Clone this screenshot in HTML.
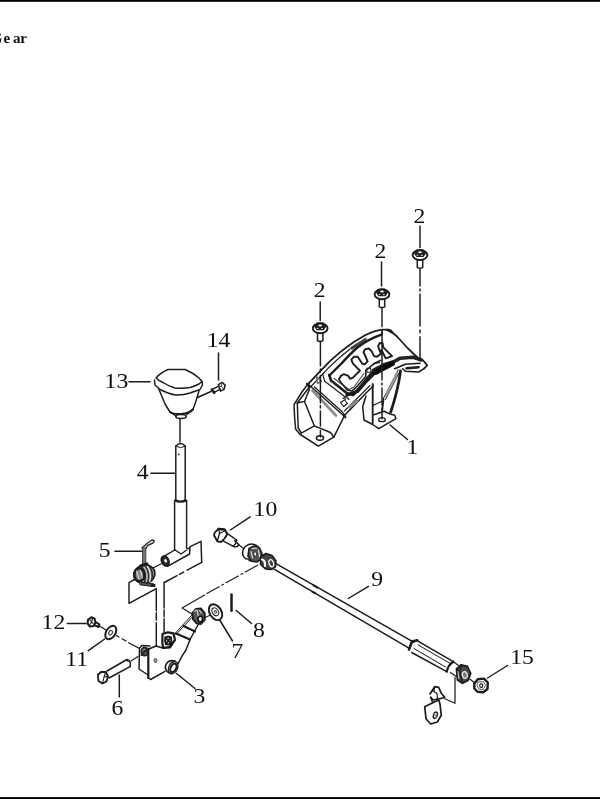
<!DOCTYPE html>
<html><head><meta charset="utf-8">
<style>
html,body{margin:0;padding:0;background:#fff;}
body{width:600px;height:799px;overflow:hidden;position:relative;font-family:"Liberation Serif",serif;}
svg{position:absolute;left:0;top:0;}
.hd{position:absolute;left:0;top:0;}
</style></head>
<body>

<svg width="600" height="799" viewBox="0 0 600 799">
<defs>
<filter id="bl" x="-5%" y="-5%" width="110%" height="110%"><feGaussianBlur stdDeviation="0.45"/></filter>
<g id="fb" fill="#fff" stroke="#1a1a1a" stroke-width="1.1">
  <path d="M-2.7,4.5 L-2.7,12.6 Q0,13.8 2.7,12.6 L2.7,4.5 Z" stroke-width="1.5"/>
  <ellipse cx="0" cy="0" rx="7.4" ry="5" stroke-width="1.9"/>
  <path d="M-5.4,-1.8 L-3,-5 L3,-5 L5.4,-1.8 L3.2,1.4 L-3.2,1.4 Z" fill="#222" stroke-width="1.2"/>
  <ellipse cx="0" cy="-2.8" rx="1.8" ry="1" fill="#fff" stroke="none"/>
  <ellipse cx="-2.6" cy="0.2" rx="0.9" ry="0.6" fill="#ddd" stroke="none"/>
  <ellipse cx="1.8" cy="0.3" rx="1.1" ry="0.6" fill="#ddd" stroke="none"/>
</g>
</defs>
<rect x="0" y="0" width="600" height="1.8" fill="#000"/>
<rect x="0" y="797.1" width="600" height="1.9" fill="#000"/>
<g filter="url(#bl)" fill="none" stroke="#1a1a1a" stroke-width="1.45" stroke-linecap="round" stroke-linejoin="round">

<g font-family="Liberation Serif, serif" font-size="15" font-weight="bold" fill="#111" stroke="none">
<text x="-9.3" y="43">G</text><text x="3.6" y="43">e</text><text x="13" y="43">a</text><text x="20.3" y="43">r</text>
</g>
<!-- ===== labels ===== -->
<g font-family="Liberation Serif, serif" font-size="21.5" fill="#111" stroke="none">
<text transform="translate(413.6,222.6) scale(1.1,1)">2</text>
<text transform="translate(374.4,257.6) scale(1.1,1)">2</text>
<text transform="translate(313.8,297.3) scale(1.1,1)">2</text>
<text transform="translate(406.5,454.2) scale(1.1,1)">1</text>
<text transform="translate(206.8,347.2) scale(1.1,1)">14</text>
<text transform="translate(104.6,388) scale(1.1,1)">13</text>
<text transform="translate(136.8,479) scale(1.1,1)">4</text>
<text transform="translate(98.7,557.2) scale(1.1,1)">5</text>
<text transform="translate(253.6,515.7) scale(1.1,1)">10</text>
<text transform="translate(371.3,586.2) scale(1.1,1)">9</text>
<text transform="translate(510.3,664) scale(1.1,1)">15</text>
<text transform="translate(253,636.7) scale(1.1,1)">8</text>
<text transform="translate(231.6,658.3) scale(1.1,1)">7</text>
<text transform="translate(193.5,702.7) scale(1.1,1)">3</text>
<text transform="translate(111.5,714.5) scale(1.1,1)">6</text>
<text transform="translate(65.2,666) scale(1.1,1)">11</text>
<text transform="translate(41.6,629) scale(1.1,1)">12</text>
</g>

<!-- ===== leaders ===== -->
<g id="leaders">
<path d="M420,226 V247.5"/>
<path d="M381.5,262 V286"/>
<path d="M320.2,302 V320.5"/>
<path d="M390,425 L407.5,439.5"/>
<path d="M218.5,353 V380"/>
<path d="M129,381.7 H150"/>
<path d="M151,473.2 H174.5"/>
<path d="M115,551.3 H142"/>
<path d="M250.2,516.8 L230.3,530"/>
<path d="M368.5,586.4 L348.3,598.5"/>
<path d="M507.5,665.5 L487.5,678"/>
<path d="M236.2,610.5 L251.5,623.5"/>
<path d="M219.7,620 L232.5,641"/>
<path d="M176.5,673.5 L195,688.5"/>
<path d="M119.3,675 V697"/>
<path d="M88.3,650.7 L104.7,639"/>
<path d="M67.3,623.4 H86"/>
</g>


<!-- ===== part 1 cover ===== -->
<g id="cover">
<!-- outer arc + right side + tab -->
<path d="M307.8,384.3 L320,371.3 C333,357 350,343.5 365,335.2 C372,331.8 378,329.7 383,329.6 L389,329.6 L397,336.5 L408,348.5 L418.7,358.7 L422.7,360 L427.3,365.3 L424,368.7" stroke-width="1.8"/>
<!-- inner rim line -->
<path d="M310.5,387 L322.7,374 C331,365 341,356 351,348.3" stroke-width="1.1"/>
<path d="M351.5,348.3 L366,339" stroke="#8f8f8f" stroke-width="2.8"/>
<path d="M352,348 L365.5,339.4" stroke="#444" stroke-width="2.8" stroke-dasharray="0.8 1.6"/>
<path d="M382,331 V334.8" stroke-width="1.8"/>
<path d="M386.5,330 L391.5,330 L393,333.5 Z" fill="#222" stroke-width="1"/>
<!-- gate panel outer -->
<path d="M329.3,375.5 L341,364 C346,358.5 352,352 358,347 C365,341.8 373,337.5 381.5,334.6" stroke-width="2.4"/>
<path d="M329.3,375 L331,380.5 L347,393.3 L353.3,395 L361.3,385.3 L372,372.5" stroke-width="2.6"/>
<path d="M334,378.5 L349,389.5 L354,387 L364,373.5" stroke-width="1.1" stroke="#444"/>
<!-- gate slot upper contour -->
<path d="M339,379.4 L340.8,375.9 L343.7,374.2 L348.3,375.9 L350.1,378.8 L353,377.7 L360,370.7 L357.1,367.8 L353,363.7 L351.3,359.6 L354.2,356.7 L357.7,356.7 L360,360.2 L362.3,363.7 L364.7,364.3 L367.6,361.3 L365.3,356.1 L363.5,352 L365.3,349.1 L368.8,348.5 L371.7,351.4 L374,356.1 L376.9,356.7 L381,353.8 L379.3,349.7 L378.1,346.2 L379.5,343.3 L382.5,342.8 L383.3,347.3 L392.1,356.1 L385.7,358.4 L381.5,350" stroke-width="1.9"/>
<!-- gate slot lower contour -->
<path d="M339,379.4 L340.8,382.3 L347.2,389.9 L351.8,391.1 L355.9,387.6 L365.8,376.5 L365.8,370.1 L368.8,368.3 L371.7,365.4 L376.3,362.5 L381,360.2" stroke-width="1.5"/>
<path d="M367,368.2 L370.5,367.8 L371,372 L367.5,372.4 Z" stroke-width="1"/>
<path d="M373.5,363.3 L379.5,362.6" stroke-width="1.2"/>
<!-- dark lower rim band of arc, to the tab -->
<path d="M347,395 L357.5,391.3 L366,381.5 L375,372.5" stroke-width="3.4"/>
<path d="M373.3,370.3 L384,364.8 L393.3,362 L400,358.2 L413.3,357.2 L421.3,360" stroke-width="3.6" stroke="#222"/>
<path d="M376,372 L393,363" stroke-width="5.5" stroke-dasharray="1.5 1.3" stroke="#111"/>
<path d="M394.7,368.7 L405.3,364.2 L420,363.3" stroke-width="1.6"/>
<path d="M402.7,368.7 L405.3,371.3 L418.7,372 L424,368.7" stroke-width="1.5"/>
<path d="M406.5,368.3 L418.5,367.2" stroke-width="2.6"/>
<path d="M403,361 L409,360.3 M412,360.5 L418,361.5" stroke="#fff" stroke-width="1.1"/>
<!-- left top face / foot separation band -->
<path d="M322.7,374 L324.7,381.3 L344,396 L345.3,399.5" stroke-width="1.1"/>
<path d="M308,384 L344,416" stroke-width="1.4"/>
<path d="M307,383.8 L309.5,387" stroke-width="2.2"/>
<path d="M312.5,390.5 L336,415.5" stroke="#8a8a8a" stroke-width="2.6"/>
<path d="M314.5,387 L343,412.5" stroke-width="1.2"/>
<path d="M316.5,376.5 L321.5,381 L317.5,383.5 Z" stroke="#777" stroke-width="1.5"/>
<path d="M340.5,402.5 L344.5,400 L347.5,403.5 L343.5,406.5 Z M343,398.5 L346,396.5 L349,399.5" stroke-width="1.1"/>
<!-- left foot outline -->
<path d="M307.8,384.3 L302,392 L294,404.7 L294.6,417 L295.6,429 L299.6,434 L318.3,446.1 L333.8,437.2 L344.3,416" stroke-width="1.5"/>
<path d="M309,387.5 L297.3,403 L298.2,428 L301.3,433"/>
<path d="M297.3,403 L304.5,401.4 L314.3,425.8 L301.3,433.1 M314.3,425.8 L330.5,432.5 L333.8,437.2 M304.5,401.4 L309.5,389"/>
<ellipse cx="320" cy="438" rx="3.6" ry="2.3"/>
<!-- arc underside to right foot -->
<path d="M344,416 L350,409.6 L358,401.5 L366,393 L373.3,386" stroke-width="1.5"/>
<path d="M344.5,411 L352,403.5 L362,393.5 L370,385.5" stroke-width="1.1"/>
<path d="M349.5,407 L357,401" stroke="#8a8a8a" stroke-width="3"/>
<path d="M343.5,414 L345.5,417.5" stroke-width="2"/>
<!-- right foot -->
<path d="M366,396 L362.7,406.7 L364,420 L372.7,424.5 L378.7,428.7 L396,418.7 L394.7,415.3 L390,414 L384,411.3 L374,414.7" stroke-width="1.5"/>
<path d="M372.7,384 V423" stroke-width="1.8"/>
<path d="M373.3,405.3 L382,401.3" stroke-width="1.2"/>
<ellipse cx="382" cy="419.7" rx="3.3" ry="2" stroke-width="1.3"/>
<path d="M398.2,369.8 L383.3,398.7 M400,371 L385.5,399.5" stroke-width="1"/>
<path d="M397,373 L386,396" stroke-width="2.6" stroke="#999" stroke-dasharray="1.2 1.6"/>
<path d="M400.5,371 Q398,390 390.7,412" stroke-width="2.8" stroke-dasharray="2.2 0.9"/>
<path d="M383.5,399 L382.3,410" stroke-width="1.8" stroke-dasharray="2 1"/>
</g>


<!-- ===== knob 13 + screw 14 ===== -->
<g id="knob">
<path d="M159,389.5 L165,404 L170,412 L176,416 M199,391 L195,404 L193,409 L187,414.5"/>
<path d="M154.5,380 L155,385 L160,389.5 C166,392.5 171,394.5 176,395 C181,395.3 186,394.3 190,393 L200,389.5 L202.5,385 L202,381.5"/>
<path d="M156,378 C159,374.5 163,371.5 168,369.5 L185,369.5 C190,371.5 195,374.5 199,378 L202,381.5 L199,384 C196,385.5 193,386.8 190,387.5 C185,388.3 180,388.3 175,388 C170,386.5 166,384.5 163,382.5 C160,381 157.5,379.5 156,378 Z"/>
<path d="M170,412 C174,415 188,415 193,409.5" stroke-width="1.9"/>
<ellipse cx="181" cy="416.5" rx="5.2" ry="2" stroke-width="1.6"/>
<path d="M180,419 V442"/>
<path d="M197.5,397.5 L211,391.5"/>
<path d="M212.3,389.4 L218.6,386.2 M213.8,392.4 L220.3,389.3" stroke-width="1.3"/>
<path d="M211.8,389.6 L214.2,392.8" stroke-width="2.6"/>
<path d="M218.3,384.6 L222.3,382.4 L225.2,385.2 L224,389.3 L220.6,391.2 Z" stroke-width="1.5"/>
<path d="M222.3,382.4 L221.3,386.5 L224,389.3 M221.3,386.5 L218.6,386.2" stroke-width="1" stroke="#444"/>
</g>

<!-- ===== shaft 4 ===== -->
<g id="shaft">
<path d="M175.8,446 V500 M185.2,446 V500"/>
<path d="M175.8,446 Q180.5,441 185.2,446"/>
<path d="M176.5,446.5 Q180.5,449 184.6,446.5" stroke-width="1"/>
<circle cx="178.8" cy="454.3" r="0.9" fill="#222" stroke="none"/>
<path d="M175.8,500 Q180.5,502.6 185.2,500"/>
<path d="M174.6,500.5 V550.2 M186.6,500.5 V548 Q187,549.4 189.8,548"/>
<path d="M174.6,500.5 Q180.5,503.5 186.6,500.5"/>
<!-- tube -->
<ellipse cx="165.2" cy="561" rx="3.6" ry="5.3" transform="rotate(-25 165.2 561)" stroke-width="1.6" fill="#2a2a2a"/><ellipse cx="165.6" cy="560.8" rx="1.3" ry="1.8" transform="rotate(-25 165.6 560.8)" fill="#fff" stroke="none"/>

<path d="M164.3,556.2 L174.8,550 M167.5,566.3 L189.6,554 L189.9,548"/>
<path d="M174.8,549.8 L181,554 L186.4,550.3" stroke-width="1.3"/>
<!-- plane (right) -->
<path d="M189.8,546.8 L201,541.3 L201.7,562.3"/>
<path d="M201.7,562.3 L164.3,582.5" stroke-dasharray="16.5 4 5 2.5 20 1"/>
<path d="M164.1,582.5 V608 M164.1,610 V616.7 M164.1,618.7 V632.7"/>
<!-- plane (left) -->
<path d="M135.8,578.8 L129,582.7 L129,603.3 L156.3,588.7 V610.7 M156.3,612.7 V620 M156.3,622.7 V646"/>
<!-- axis lines -->


</g>

<!-- ===== pin 5 + spring ===== -->
<g id="spring">
<path d="M144.1,548 V564.5" stroke="#777" stroke-width="3.3"/>
<path d="M142.6,548 V564.5 M145.8,548.5 V564" stroke-width="0.9" stroke="#333"/>
<path d="M142,548 L147.5,543 L152,540 L154.2,540.8 L153,543 L147.5,545.5 L145.8,548.6" stroke-width="1.5" stroke="#333"/>
<path d="M153,568 L161.3,563.8" stroke-width="1.1"/>
<ellipse cx="144.6" cy="574.2" rx="10.4" ry="9.2" stroke-width="1.8" fill="#b5b5b5" transform="rotate(-15 144.6 574.2)"/>
<path d="M140.8,565.8 L147,564" stroke-width="3"/>
<path d="M145.5,566 Q150.5,573 148,582.5 M149.5,566.5 Q154,573 151.5,581 M141.5,566.5 Q147,573 144.5,583" stroke-width="1.8" stroke="#333"/>
<path d="M147.3,566.5 Q152,573 149.7,581.5" stroke-width="1.2" stroke="#eee"/>
<ellipse cx="139.3" cy="574.8" rx="5" ry="6.6" stroke-width="2.6" fill="#888"/>
<path d="M136.5,571 L139,579 M140.5,570.5 L142.5,578" stroke="#ddd" stroke-width="1"/>
<path d="M140.4,583.5 L153,585.2" stroke="#555" stroke-width="2.8"/>
<path d="M141,582.3 L153.3,583.8 M140,584.8 L152,586.5" stroke-width="0.9"/>
<path d="M152.3,585 L154,585.4" stroke-width="3.2"/>
<path d="M135.8,578.3 L132,580.8" stroke-width="1"/>
</g>


<!-- ===== bracket 3 ===== -->
<g id="bracket">
<!-- left flap -->
<path d="M139.5,648 L139,669 L148,675 M139.5,648 L142,645.5 L150,646"/>
<!-- main plate -->
<path d="M148.3,649.2 L148.3,678" stroke-width="2.2"/><path d="M148.3,678 L150.5,679.5 L165,671.3" stroke-width="1.5"/>
<path d="M148.3,649.2 L156,646 L162,647.8 L169,647.2 L175,640" stroke-width="1.7"/>
<ellipse cx="155.5" cy="660.5" rx="1.4" ry="1.9" stroke-width="1.2" stroke="#555" fill="#bbb"/>
<!-- left boss -->
<ellipse cx="144.6" cy="651.6" rx="3.3" ry="4" stroke-width="1.8" fill="#999"/>
<ellipse cx="144.8" cy="652.3" rx="1.6" ry="2" stroke-width="1.3" stroke="#444"/>
<path d="M141.5,655 L148,648.5" stroke-width="2" stroke="#222"/>
<!-- middle boss -->
<path d="M162.5,634 L168,632.3 L173.5,633.3 L175,640 L170,647.3 L163.3,648 L162.3,643.3 Z" stroke-width="2.2"/>
<ellipse cx="168.2" cy="640.5" rx="3.2" ry="3.9" stroke-width="2" fill="#ccc"/>
<path d="M165,637 L171.5,644 M165.5,644.5 L171,637" stroke-width="1.6"/>
<!-- bushing -->
<path d="M171.5,673.8 C166,672.5 164,668 166,664.5 C167.5,661.5 171,660 175,661" stroke-width="1.6"/>
<ellipse cx="173.2" cy="667.6" rx="4.4" ry="6.4" transform="rotate(25 173.2 667.6)" stroke-width="1.3"/><ellipse cx="173.4" cy="667.8" rx="2.7" ry="4.5" transform="rotate(25 173.4 667.8)" stroke-width="2"/>
<!-- arm -->
<path d="M178.3,663.3 L181.7,656.7 L186,650 L190,639.5 L198.5,624"/>
<path d="M175,633.5 L192,615 M176,634.5 L193,616.3" stroke-width="1"/>
<path d="M176,633.5 L190,639.5 M183.5,626 L195,631.5" stroke-width="2.1"/>

<!-- arm top boss -->
<path d="M192.3,613 L196,608.8 L201,608.5 L204.8,613 L204.8,620 L201,624 L196.5,623.3 L193,619.5 Z" stroke-width="1.8" fill="#555"/>
<path d="M194,611.5 L197,609.8 L198.5,617 M199.3,610 L201.3,613" stroke="#eee" stroke-width="1"/>
<ellipse cx="200.3" cy="619" rx="2.2" ry="2.7" fill="#fff" stroke="#111" stroke-width="1.6"/>
<!-- Z axis line -->
<path d="M204.2,595.3 L182,608 L192.5,614.3" stroke-width="1.2"/>
<path d="M205,617.5 L209.5,615.5" stroke-width="1.1"/>
</g>

<!-- ===== washer 7 + pin 8 ===== -->
<ellipse cx="215.5" cy="612.2" rx="5.8" ry="8.6" transform="rotate(-32 215.5 612.2)" stroke-width="1.9"/><ellipse cx="215.3" cy="611.8" rx="3" ry="4.2" transform="rotate(-32 215.3 611.8)" stroke-width="1"/>
<ellipse cx="215.4" cy="611.8" rx="1" ry="1.4" transform="rotate(-32 215.4 611.8)" stroke-width="1" stroke="#444"/>
<path d="M231.5,594.5 V610.8" stroke-width="2.5"/>

<!-- ===== 11, 12, 6 ===== -->
<g id="left-hw">
<path d="M99.5,626 L106,630" stroke-width="1.2"/>
<path d="M116.5,635.5 L119,637 M122,638.8 L126,641 M128.7,642.7 L139,648.3" stroke-width="1.3"/>
<ellipse cx="110.8" cy="632.5" rx="4.6" ry="7.4" transform="rotate(32 110.8 632.5)" stroke-width="2"/>
<ellipse cx="110.6" cy="632.8" rx="1.7" ry="2.4" transform="rotate(32 110.6 632.8)" stroke-width="1.2" stroke="#444"/>
<!-- screw 12 -->
<path d="M88,619.8 L91.3,617.3 L94.5,618.5 L95.5,622.5 L93.5,626 L90,626.5 L87.6,623.5 Z" stroke-width="2.1"/>
<path d="M90,620 L93,623.5 M92.5,619.5 L90.5,624" stroke-width="1.1"/>
<path d="M95.5,622 L99.3,624.3 L98.6,627 L94.8,625.3" stroke-width="2"/>
<!-- bolt 6 -->
<path d="M107,671 L127,659.5 M109,678 L130,666.7" />
<path d="M127,659.5 Q131.6,660.6 130,666.7"/>
<ellipse cx="127.8" cy="660.8" rx="1.3" ry="1" fill="#222" stroke="none"/>
<path d="M97.8,675 L101,672 L105.8,672 L108,676.5 L106.5,681.5 L102.5,683.5 L98.5,681 Z" stroke-width="1.8"/>
<path d="M105.8,672 L104,677 L102.5,683.5 M104,677 L108,676.5" stroke-width="1.1"/>
<path d="M131,661 L138,656.5" stroke-width="1.1"/>
</g>


<!-- ===== bolt 10 ===== -->
<g id="bolt10">
<path d="M226.3,532.9 L236.7,540 M222.3,540.3 L233.3,546.3" stroke-width="1.5"/>
<path d="M236.7,540 Q236.3,544 233.3,546.3" stroke-width="1.3"/>
<path d="M234.7,540.7 L238.7,544.5 L237.3,546.5 L234,546.7" stroke-width="1.6"/>
<path d="M214.7,532.7 L218.7,528.7 L224.7,529.3 L227.3,534 L224.5,538.5 L221.3,542 L217.3,541.3 L214,535.3 Z" stroke-width="1.8"/>
<path d="M218.7,528.7 L219.5,533.5 L217.3,541.3 M219.5,533.5 L224.5,531" stroke-width="1.3"/>
<path d="M218.5,529 L224.5,529.6" stroke-width="2.4"/>
<path d="M238.7,544.7 L244,548.7" stroke-width="1.1"/>
</g>

<!-- ===== rod 9 ===== -->
<g id="rod">
<!-- joint head -->
<path d="M246,559 C241.5,556 241.5,549.5 246,546 C250,543 256,543.5 259,548" stroke-width="1.5"/>
<path d="M249,548.5 L254,546 L259.5,548 L262,553.5 L261,559.5 L256.5,562 L251,561 L248,556 Z" fill="#555" stroke-width="1.6"/>
<ellipse cx="255.3" cy="554" rx="1.7" ry="2" fill="#fff" stroke="#111" stroke-width="0.8"/>
<path d="M251,551.5 L252.5,558 M258.5,550 L259.5,556.5 M252,548.5 L257,548" stroke="#eee" stroke-width="1.1"/>
<path d="M247,558.5 L250,561" stroke-width="1.2"/>
<!-- second joint part -->
<path d="M261,556.5 L266,553.5 L272,555.5 L276,561 L275.5,566.5 L271.5,569.5 L265.5,569 L260.5,564.5 Z" fill="#444" stroke-width="1.6"/>
<path d="M262,559.5 Q265.5,560.5 265,566" stroke="#fff" stroke-width="2.2"/>
<ellipse cx="271.3" cy="563.3" rx="2.2" ry="3.7" transform="rotate(-20 271.3 563.3)" fill="none" stroke="#fff" stroke-width="1.2"/>
<!-- rod -->
<path d="M275.5,563.3 L414,642.3 M274,569.2 L409,648.2"/>
<path d="M313.5,585.3 L317.5,587.6 M312.5,591.8 L315,593.2" stroke-width="2"/>
<!-- sleeve -->
<path d="M409,649.5 L412,641.5 L417.3,640.2" stroke-width="2.6"/>
<path d="M417.5,640.8 L453.3,661.7 M411.7,652.5 L446.7,671.7"/>
<path d="M418.3,645 L450,663.3 M414,648.5 L445.5,667" stroke-width="1"/>
<path d="M446.7,671.7 Q448,665 453.3,661.7" stroke-width="2.2"/>
<path d="M453.3,661.7 L458.3,665.3 M450.5,672.5 L456.5,676.5" stroke-width="1.2"/>
<!-- end nut -->
<path d="M456.5,669 L461,665 L467.5,666.5 L470.7,673.5 L468,680.5 L462.5,683.3 L457.5,680 Z" stroke-width="1.8" fill="#4a4a4a"/>
<path d="M461,665 L460,672.5 L462.5,683.3 M460,672.5 L456.5,669" stroke-width="1.3"/>
<ellipse cx="464.8" cy="675" rx="2.4" ry="3.4" transform="rotate(-15 464.8 675)" stroke="#eee" stroke-width="1.2" fill="#777"/>
<path d="M458,671.5 L458.8,678.5" stroke="#ddd" stroke-width="1"/>
<path d="M470,679.3 L475.3,683.3" stroke-width="1.2"/>
<!-- nut 15 -->
<path d="M474.2,683.8 L477.8,679.3 L484,678.6 L487.8,682.5 L487.5,689 L483.2,692.2 L477.5,691.8 L474.4,688.5 Z" stroke-width="2.4"/>
<path d="M478.5,682 L483.5,681.6 L485.5,685.5 L483,689.5 L478.8,689 L477,685.5 Z" stroke-width="1" stroke="#555"/>
<ellipse cx="481.2" cy="685.6" rx="1.5" ry="1.9" stroke-width="1.2"/>
<!-- clip line -->
<path d="M455,677.3 V703.3 L444.7,698.7" stroke-width="1.2"/>
<!-- clip -->
<path d="M430,694 L434.7,686.7 L438.7,687.3 L441.3,693.3 L444.7,697.3 L440,698.7 L433.3,700 L430.7,697.3" stroke-width="1.7"/>
<path d="M433,691 L437,693.5 L437.5,698.5 M434.7,686.7 L434,691" stroke-width="1.2"/>
<path d="M432.7,702.7 L424.7,706.7 L426,718.7 L430.7,724 L437.3,722 L441.3,715.3 L440,704 L438.7,700 Z" stroke-width="1.7"/>
<path d="M430.7,697.3 L432.7,702.7" stroke-width="1.5"/>
<ellipse cx="435.3" cy="715.3" rx="1.8" ry="3.3" transform="rotate(18 435.3 715.3)" stroke-width="1.4"/>
<path d="M434,712.5 L436.5,718" stroke-width="0.8" stroke="#666"/>
</g>

<!-- long axis line joint -> bracket -->
<path d="M257.5,565.2 L204.2,595" stroke-dasharray="14 3 2 3" stroke-width="1.1"/>

<!-- ===== flange bolts (2) ===== -->
<use href="#fb" x="420" y="255"/>
<use href="#fb" x="382" y="294.3"/>
<use href="#fb" x="320.2" y="328.2"/>
<!-- axis lines -->
<path d="M420,269 V286 M420,289 V291 M420,294 V326 M420,330 V332.7 M420,336.7 V358.7"/>
<path d="M382,308 V326.5" />
<path d="M382,336 V380 M382,383 V385 M382,388 V405 M382,408 V419"/>
<path d="M320.4,341.5 V365.7 M320.4,369 V372 M320.4,375.4 V403 M320.4,405.5 V408 M320.4,411 V426 M320.4,430.5 V437"/>

</g>
</svg>
</body></html>
